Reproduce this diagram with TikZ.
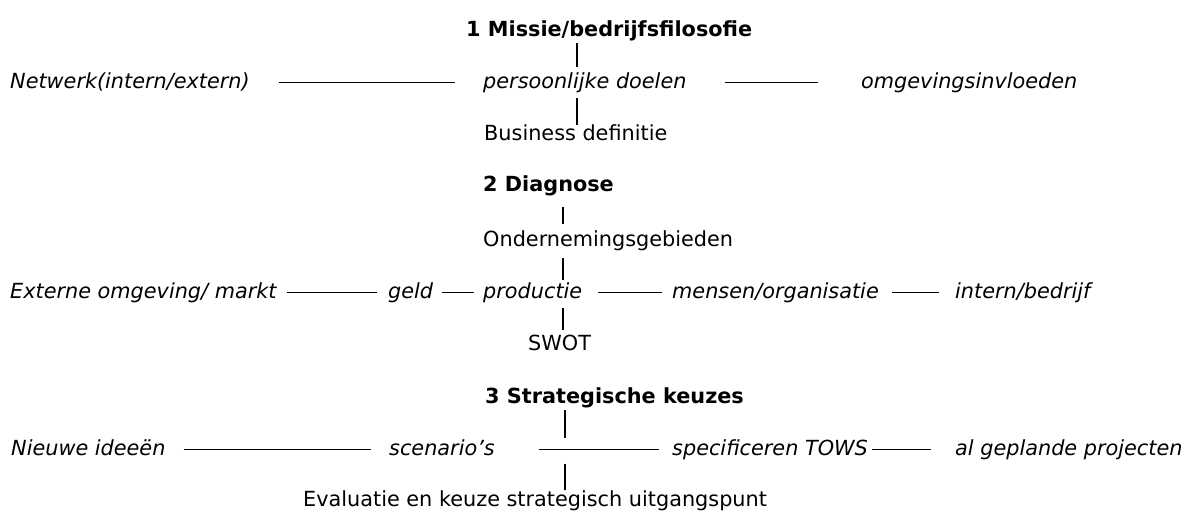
\documentclass[tikz,border=0pt]{standalone}
\usepackage{fontspec}
\setmainfont{DejaVu Sans}[ItalicFont={DejaVu Sans Oblique},BoldFont={DejaVu Sans Bold}]
\usepackage{tikz}
\tikzstyle{word} = [inner sep=0pt, anchor=base west, text height=15pt, text depth=4pt, font=\fontsize{20.8}{25}\selectfont]
\tikzstyle{heading} = [word, font=\fontsize{20.8}{25}\selectfont\bfseries]
\tikzstyle{topic} = [word, font=\fontsize{20.8}{25}\selectfont\itshape]
\tikzstyle{note} = [word]
\tikzstyle{link} = [line width=1.8pt]

\begin{document}
\begin{tikzpicture}[x=1pt,y=-1pt]
\useasboundingbox (0,0) rectangle (1190,511);

% 1 Missie
\node (missie) [heading] at (466,37) {1 Missie/bedrijfsfilosofie};
\node (netwerk) [topic] at (10,88) {Netwerk(intern/extern)};
\node (doelen) [topic] at (483,88) {persoonlijke doelen};
\node (invloed) [topic] at (861,88) {omgevingsinvloeden};
\node (business) [note] at (484,140) {Business definitie};
\coordinate (as1) at (577,0);

% 2 Diagnose
\node (diagnose) [heading] at (483,191) {2 Diagnose};
\node (gebieden) [note] at (483,246) {Ondernemingsgebieden};
\node (extern) [topic] at (10,298) {Externe omgeving/ markt};
\node (geld) [topic] at (388,298) {geld};
\node (productie) [topic] at (483,298) {productie};
\node (mensen) [topic] at (672,298) {mensen/organisatie};
\node (intern) [topic] at (955,298) {intern/bedrijf};
\node (swot) [note] at (528,350) {SWOT};
\coordinate (as2) at (563,0);

% 3 Strategische keuzes
\node (keuzes) [heading] at (485,403) {3 Strategische keuzes};
\node (ideeen) [topic] at (11,455) {Nieuwe ideeën};
\node (scenario) [topic] at (389,455) {scenario’s};
\node (tows) [topic] at (672,455) {specificeren TOWS};
\node (gepland) [topic] at (955,455) {al geplande projecten};
\node (evaluatie) [note] at (303,506) {Evaluatie en keuze strategisch uitgangspunt};
\coordinate (kruis) at (565,449.5);

% Lines
\draw [link, shorten <=2pt, shorten >=6pt] (missie.south -| as1) -- (doelen.north -| as1);
\draw [link, shorten <=6pt] (doelen.south -| as1) -- (business.north -| as1);
\draw [link, shorten <=29pt, shorten >=28pt] (netwerk.east) -- (doelen.west);
\draw [link, shorten <=38pt, shorten >=43pt] (doelen.east) -- (invloed.west);

\draw [link, shorten <=12pt, shorten >=7pt] (diagnose.south -| as2) -- (gebieden.north -| as2);
\draw [link, shorten <=8pt, shorten >=3pt] (gebieden.south -| as2) -- (productie.north -| as2);
\draw [link, shorten <=6pt, shorten >=5pt] (productie.south -| as2) -- (swot.north -| as2);
\draw [link, shorten <=10pt, shorten >=11pt] (extern.east) -- (geld.west);
\draw [link, shorten <=9pt, shorten >=9pt] (geld.east) -- (productie.west);
\draw [link, shorten <=16pt, shorten >=10pt] (productie.east) -- (mensen.west);
\draw [link, shorten <=13pt, shorten >=16pt] (mensen.east) -- (intern.west);

\draw [link, shorten <=3pt, shorten >=12pt] (keuzes.south -| kruis) -- (kruis);
\draw [link, shorten <=14pt, shorten >=1pt] (kruis) -- (evaluatie.north -| kruis);
\draw [link, shorten <=18pt, shorten >=18pt] (ideeen.east) -- (scenario.west);
\draw [link, shorten <=44pt, shorten >=13pt] (scenario.east) -- (tows.west);
\draw [link, shorten <=4pt, shorten >=24pt] (tows.east) -- (gepland.west);

\end{tikzpicture}
\end{document}
